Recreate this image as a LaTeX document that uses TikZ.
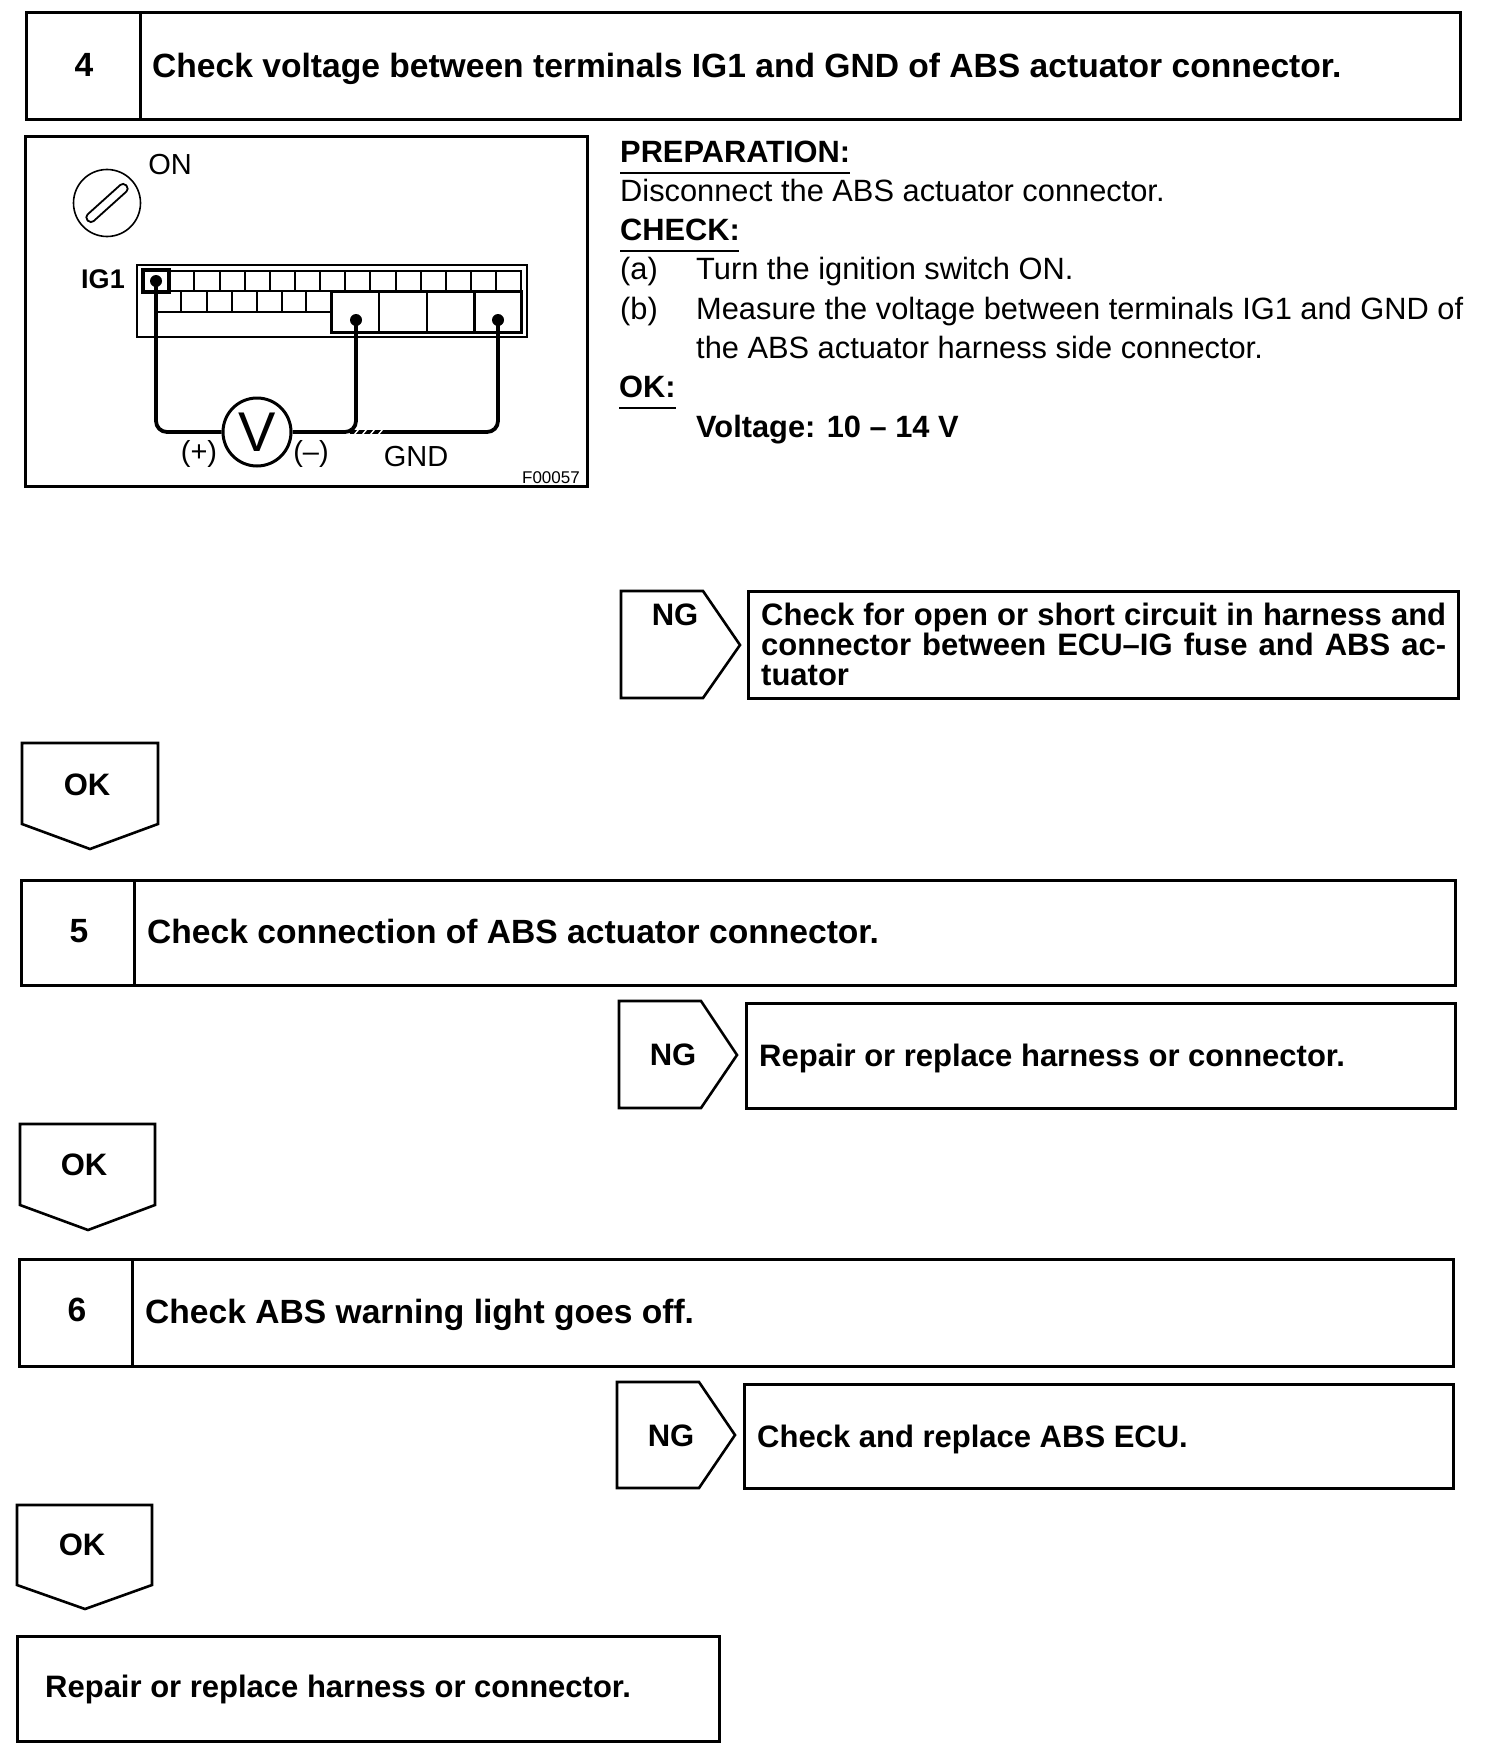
\documentclass[tikz,border=0pt]{standalone}
\usepackage{fontspec}
\setmainfont{Liberation Sans}
\newcommand{\bigbf}{\fontsize{33.6}{36}\selectfont\bfseries}
\newcommand{\boxbf}{\fontsize{31}{34}\selectfont\bfseries}
\newcommand{\midtx}{\fontsize{30.8}{34}\selectfont}
\newcommand{\midbf}{\fontsize{30.8}{34}\selectfont\bfseries}
\tikzset{
  x=1pt,y=-1pt,
  frame/.style={draw=black,line width=3pt,line join=miter},
  thin frame/.style={draw=black,line width=2.6pt},
  hd/.style={anchor=base west,inner sep=0pt,font=\bigbf},
  boxt/.style={anchor=base west,inner sep=0pt,font=\boxbf},
  num/.style={anchor=base,inner sep=0pt,font=\bigbf},
  tag/.style={anchor=base,inner sep=0pt,font=\boxbf},
  body/.style={anchor=base west,inner sep=0pt,font=\midtx},
  bodyb/.style={anchor=base west,inner sep=0pt,font=\midbf},
  lab/.style={anchor=base,inner sep=0pt,font=\fontsize{29}{32}\selectfont},
  rulel/.style={draw=black,line width=2pt},
  wire/.style={draw=black,line width=3.8pt,rounded corners=11pt},
  cell/.style={draw=black,line width=2.2pt},
  dotn/.style={circle,fill=black,minimum size=12pt,inner sep=0pt},
}
\begin{document}
\begin{tikzpicture}
\useasboundingbox (0,0) rectangle (1504,1758);
\fill[white] (0,0) rectangle (1504,1758);

% ---- step 4 header
\draw[frame] (26,13) rectangle (1460,120);
\draw[frame] (140,13) -- (140,120);
\node[num] (n4) at (84,77) {4};
\node[hd] (t4) at (152,78) {Check voltage between terminals IG1 and GND of ABS actuator connector.};

% ---- illustration
\draw[frame] (25,137) rectangle (587,486);
\node[lab] (on) at (170,174) {ON};
\node[draw=black,line width=1.6pt,circle,minimum size=67pt,inner sep=0pt] (key) at (107,203) {};
\node[draw=black,line width=1.8pt,rounded corners=4pt,minimum width=52pt,minimum height=9pt,inner sep=0pt,rotate=42] (slot) at (107,203) {};
\node[lab,font=\fontsize{27}{30}\selectfont\bfseries] (ig1) at (103,288) {IG1};

% connector body
\draw[line width=2.8pt] (137,265) rectangle (527,337);
\draw[cell] (143,271) rectangle (521,291);
\foreach \xx in {169,194,220,245,270,295,320,345,370,396,421,446,471,496}
  \draw[cell] (\xx,271) -- (\xx,291);
\foreach \xx in {181,207,232,257,282,306}
  \draw[cell] (\xx,291) -- (\xx,312);
\draw[cell] (156,312) -- (331,312);
\draw[line width=3pt] (331,291) rectangle (521,332);
\draw[line width=2.8pt] (379,291) -- (379,332);
\draw[line width=2.8pt] (427,291) -- (427,332);
\draw[line width=3pt] (474,291) -- (474,332);
\draw[line width=3.2pt] (143,270) rectangle (169,292);

\node[dotn] (dA) at (156,281) {};
\node[dotn] (dB) at (356,320) {};
\node[dotn] (dC) at (498,320) {};
\node[draw=black,line width=3pt,circle,fill=white,minimum size=68pt,inner sep=0pt,font=\fontsize{56}{56}\selectfont] (meter) at (257,432) {V};
\coordinate (jr) at (386,432);
\draw[wire] (dA.center) |- (meter.west);
\draw[wire] (dB.center) |- (meter.east);
\draw[wire] (dC.center) |- (jr);
\draw[black,line width=3.8pt] (350,432) -- (jr);
\foreach \xx in {354,362,370,378}
  \draw[white,line width=1.4pt] (\xx,435) -- (\xx+5,429);

\node[lab] (plus) at (199,461) {(+)};
\node[lab] (minus) at (311,461) {(–)};
\node[lab] (gnd) at (416,466) {GND};
\node[anchor=base east,inner sep=0pt,font=\fontsize{17}{18}\selectfont] (fig) at (580,483) {F00057};

% ---- instructions
\node[bodyb] (prep) at (620,162) {PREPARATION:};
\draw[rulel] (620,173) -- (850,173);
\node[body] (disc) at (620,201) {Disconnect the ABS actuator connector.};
\node[bodyb] (chk) at (620,240) {CHECK:};
\draw[rulel] (620,251) -- (739,251);
\node[body] (a) at (620,279) {(a)};
\node[body] (at) at (696,279) {Turn the ignition switch ON.};
\node[body] (b) at (620,319) {(b)};
\node[body] (bt) at (696,319) {Measure the voltage between terminals IG1 and GND of};
\node[body] (bt2) at (696,358) {the ABS actuator harness side connector.};
\node[bodyb] (okh) at (619,397) {OK:};
\draw[rulel] (619,408) -- (676,408);
\node[bodyb] (volt) at (696,437) {Voltage: 10 – 14 V};

% ---- NG 4
\draw[thin frame] (621,591) -- (703,591) -- (740,645) -- (703,698) -- (621,698) -- cycle;
\node[tag] (ng4) at (675,625) {NG};
\draw[frame] (748,591) rectangle (1458,698);
\node[boxt] (r4a) at (761,625) {\hbox to 685pt{Check for open or short circuit in harness and}};
\node[boxt] (r4b) at (761,655) {\hbox to 685pt{connector between ECU–IG fuse and ABS ac-}};
\node[boxt] (r4c) at (761,685) {tuator};

% ---- OK 4
\draw[thin frame] (22,743) -- (158,743) -- (158,824) -- (90,849) -- (22,824) -- cycle;
\node[tag] (ok4) at (87,795) {OK};

% ---- step 5
\draw[frame] (21,880) rectangle (1455,985);
\draw[frame] (134,880) -- (134,985);
\node[num] (n5) at (79,942) {5};
\node[hd] (t5) at (147,943) {Check connection of ABS actuator connector.};
\draw[thin frame] (619,1001) -- (701,1001) -- (737,1055) -- (701,1108) -- (619,1108) -- cycle;
\node[tag] (ng5) at (673,1065) {NG};
\draw[frame] (746,1003) rectangle (1455,1108);
\node[boxt] (r5) at (759,1066) {Repair or replace harness or connector.};
\draw[thin frame] (20,1124) -- (155,1124) -- (155,1205) -- (88,1230) -- (20,1205) -- cycle;
\node[tag] (ok5) at (84,1175) {OK};

% ---- step 6
\draw[frame] (19,1259) rectangle (1453,1366);
\draw[frame] (132,1259) -- (132,1366);
\node[num] (n6) at (77,1321) {6};
\node[hd] (t6) at (145,1323) {Check ABS warning light goes off.};
\draw[thin frame] (617,1382) -- (699,1382) -- (735,1435) -- (699,1488) -- (617,1488) -- cycle;
\node[tag] (ng6) at (671,1446) {NG};
\draw[frame] (744,1384) rectangle (1453,1488);
\node[boxt] (r6) at (757,1447) {Check and replace ABS ECU.};
\draw[thin frame] (17,1505) -- (152,1505) -- (152,1585) -- (85,1609) -- (17,1585) -- cycle;
\node[tag] (ok6) at (82,1555) {OK};

% ---- final
\draw[frame] (17,1636) rectangle (719,1741);
\node[boxt] (r7) at (45,1697) {Repair or replace harness or connector.};
\end{tikzpicture}
\end{document}
